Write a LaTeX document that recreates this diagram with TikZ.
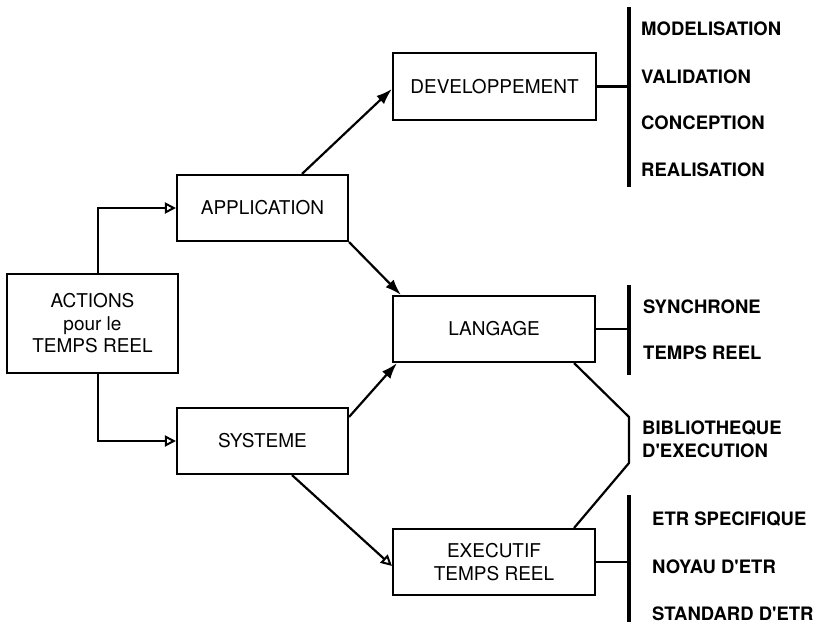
\documentclass[tikz,border=0pt]{standalone}
\usepackage{fontspec}
\setmainfont{TeX Gyre Heros}
\usetikzlibrary{arrows.meta,calc}
\begin{document}
\begin{tikzpicture}[x=1pt,y=-1pt,
  box/.style={draw,line width=2.1pt,inner sep=0pt,align=center,
    font=\fontsize{19}{22.5}\selectfont},
  item/.style={anchor=base west,inner sep=0pt,
    font=\fontsize{18.5}{22}\selectfont\bfseries},
  link/.style={line width=2.2pt},
  fillarrow/.style={link,-{Latex[length=16pt,width=11pt]}},
  openarrow/.style={link,-{Triangle[open,length=11pt,width=11pt,line width=2pt]}},
  bar/.style={line width=3.2pt},
]
\useasboundingbox (0,0) rectangle (832,627);

% main boxes
\node[box,minimum width=171pt,minimum height=99pt] (actions) at (92.5,323.5)
  {ACTIONS\\pour le\\TEMPS REEL};
\node[box,minimum width=171pt,minimum height=66pt] (application) at (262.5,208) {APPLICATION};
\node[box,minimum width=171pt,minimum height=66pt] (systeme) at (262.5,441) {SYSTEME};
\node[box,minimum width=203pt,minimum height=67pt] (developpement) at (494.5,86.5) {DEVELOPPEMENT};
\node[box,minimum width=202pt,minimum height=66pt] (langage) at (494,329) {LANGAGE};
\node[box,minimum width=202pt,minimum height=66pt] (executif) at (494,562)
  {EXECUTIF\\TEMPS REEL};

% branches out of the root box
\draw[openarrow] ($(actions.north)+(5.5,0)$) |- (application.west);
\draw[openarrow] ($(actions.south)+(5.5,0)$) |- (systeme.west);

% links between the domains
\draw[fillarrow] ($(application.north west)+(126,0)$) -- ($(developpement.north west)+(0,37)$);
\draw[fillarrow] (application.south east) -- ($(langage.north west)+(9,0)$);
\draw[fillarrow] ($(systeme.north east)+(0,10)$) -- ($(langage.south west)+(5,0)$);
\draw[openarrow] ($(systeme.south west)+(116,0)$) -- ($(executif.north west)+(0,38)$);

% brackets on the right
\coordinate (devTop) at (629,7);
\coordinate (devBot) at (629,187);
\coordinate (lanTop) at (629,285);
\coordinate (lanBot) at (629,375);
\coordinate (exeTop) at (629,495);
\coordinate (exeBot) at (629,622);
\draw[bar] (devTop) -- (devBot);
\draw[bar] (lanTop) -- (lanBot);
\draw[bar] (exeTop) -- (exeBot);
\draw[link] (developpement.east) -- (developpement.east -| devTop);
\draw[link] (langage.east) -- (langage.east -| lanTop);
\draw[link] (executif.east) -- (executif.east -| exeTop);

% run-time library link between language and executive
\coordinate (bibA) at (629,417);
\coordinate (bibB) at (629,463);
\draw[link,line join=round] ($(langage.south east)+(-22,0)$) -- (bibA) -- (bibB)
  -- ($(executif.north east)+(-22,0)$);

% item labels
\node[item] (modelisation) at (641,35.9) {MODELISATION};
\node[item] (validation) at (641,83.4) {VALIDATION};
\node[item] (conception) at (641,129.7) {CONCEPTION};
\node[item] (realisation) at (641,176.7) {REALISATION};
\node[item] (synchrone) at (643,313.7) {SYNCHRONE};
\node[item] (tempsreel) at (643,359.7) {TEMPS REEL};
\node[item] (biblio) at (642,434.7) {BIBLIOTHEQUE};
\node[item] (dexec) at (642,457.7) {D\textquotesingle EXECUTION};
\node[item] (etrspec) at (652,525) {ETR SPECIFIQUE};
\node[item] (noyau) at (652,573.4) {NOYAU D\textquotesingle ETR};
\node[item] (standard) at (652,620.4) {STANDARD D\textquotesingle ETR};
\end{tikzpicture}
\end{document}
